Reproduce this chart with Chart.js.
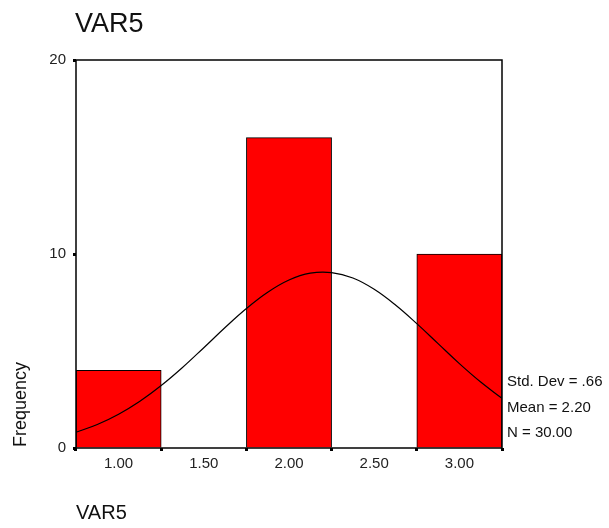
<!DOCTYPE html>
<html>
<head>
<meta charset="utf-8">
<script src="https://cdn.jsdelivr.net/npm/chart.js@4"></script>
<style>
  body { margin: 0; background: #fff; }
</style>
</head>
<body>
<canvas id="hist" width="609" height="528"></canvas>
<script>
// histogram bins (midpoints) and counts
const binMids = [1.0, 2.0, 3.0];
const counts = [4, 16, 10];
// normal curve
const curveX = [0.75, 0.875, 1.0, 1.125, 1.25, 1.375, 1.5, 1.625, 1.75, 1.875, 2.0, 2.125, 2.25, 2.375, 2.5, 2.625, 2.75, 2.875, 3.0, 3.125, 3.25];
const curveY = [0.81, 1.21, 1.74, 2.41, 3.22, 4.15, 5.17, 6.21, 7.19, 8.03, 8.66, 9.01, 9.04, 8.76, 8.18, 7.37, 6.41, 5.38, 4.35, 3.40, 2.56];
const xTicks = [1.0, 1.5, 2.0, 2.5, 3.0];
const yTicks = [0, 10, 20];
const stats = ['Std. Dev = .66', 'Mean = 2.20', 'N = 30.00'];

const FONT = '"Liberation Sans", Arial, sans-serif';

const textPlugin = {
  id: 'spssText',
  afterDraw(chart) {
    const ctx = chart.ctx;
    const a = chart.chartArea;
    ctx.save();
    // frame round the plot
    ctx.strokeStyle = '#000';
    ctx.lineWidth = 1.5;
    ctx.strokeRect(a.left, a.top, a.right - a.left, a.bottom - a.top);

    ctx.fillStyle = '#111';
    ctx.textAlign = 'left';
    ctx.textBaseline = 'middle';
    ctx.font = '27px ' + FONT;
    ctx.fillText('VAR5', 75, 25);

    ctx.font = '20px ' + FONT;
    ctx.fillText('VAR5', 76, 513);

    ctx.font = '15px ' + FONT;
    stats.forEach((s, i) => ctx.fillText(s, 507, 382 + i * 25.5));

    ctx.translate(21, 447);
    ctx.rotate(-Math.PI / 2);
    ctx.font = '18px ' + FONT;
    ctx.fillText('Frequency', 0, 0);
    ctx.restore();
  }
};

new Chart(document.getElementById('hist'), {
  data: {
    datasets: [
      {
        type: 'line',
        data: curveX.map((x, i) => ({ x: x, y: curveY[i] })),
        borderColor: '#000',
        borderWidth: 1.2,
        pointRadius: 0,
        tension: 0.4,
        fill: false
      },
      {
        type: 'bar',
        data: binMids.map((x, i) => ({ x: x, y: counts[i] })),
        backgroundColor: '#ff0000',
        borderColor: '#000',
        borderWidth: 1,
        barPercentage: 1.0,
        categoryPercentage: 1.0
      }
    ]
  },
  options: {
    responsive: false,
    animation: false,
    layout: { padding: { top: 60, right: 107, bottom: 0, left: 0 } },
    plugins: { legend: { display: false }, title: { display: false }, tooltip: { enabled: false } },
    scales: {
      x: {
        type: 'linear',
        min: 0.75,
        max: 3.25,
        offset: false,
        afterBuildTicks: (s) => { s.ticks = xTicks.map(v => ({ value: v })); },
        afterFit: (s) => { s.height = 80; },
        border: { display: false },
        grid: { drawOnChartArea: false, drawTicks: true, tickLength: 3, tickWidth: 3, tickColor: '#000' },
        ticks: {
          padding: 4,
          color: '#222',
          font: { family: FONT, size: 15 },
          maxRotation: 0,
          callback: (v) => Number(v).toFixed(2)
        }
      },
      y: {
        min: 0,
        max: 20,
        afterBuildTicks: (s) => { s.ticks = yTicks.map(v => ({ value: v })); },
        afterFit: (s) => { s.width = 76; },
        border: { display: false },
        grid: { drawOnChartArea: false, drawTicks: true, tickLength: 3, tickWidth: 3, tickColor: '#000' },
        ticks: {
          padding: 7,
          color: '#222',
          font: { family: FONT, size: 15 }
        }
      }
    }
  },
  plugins: [textPlugin]
});
</script>
</body>
</html>
